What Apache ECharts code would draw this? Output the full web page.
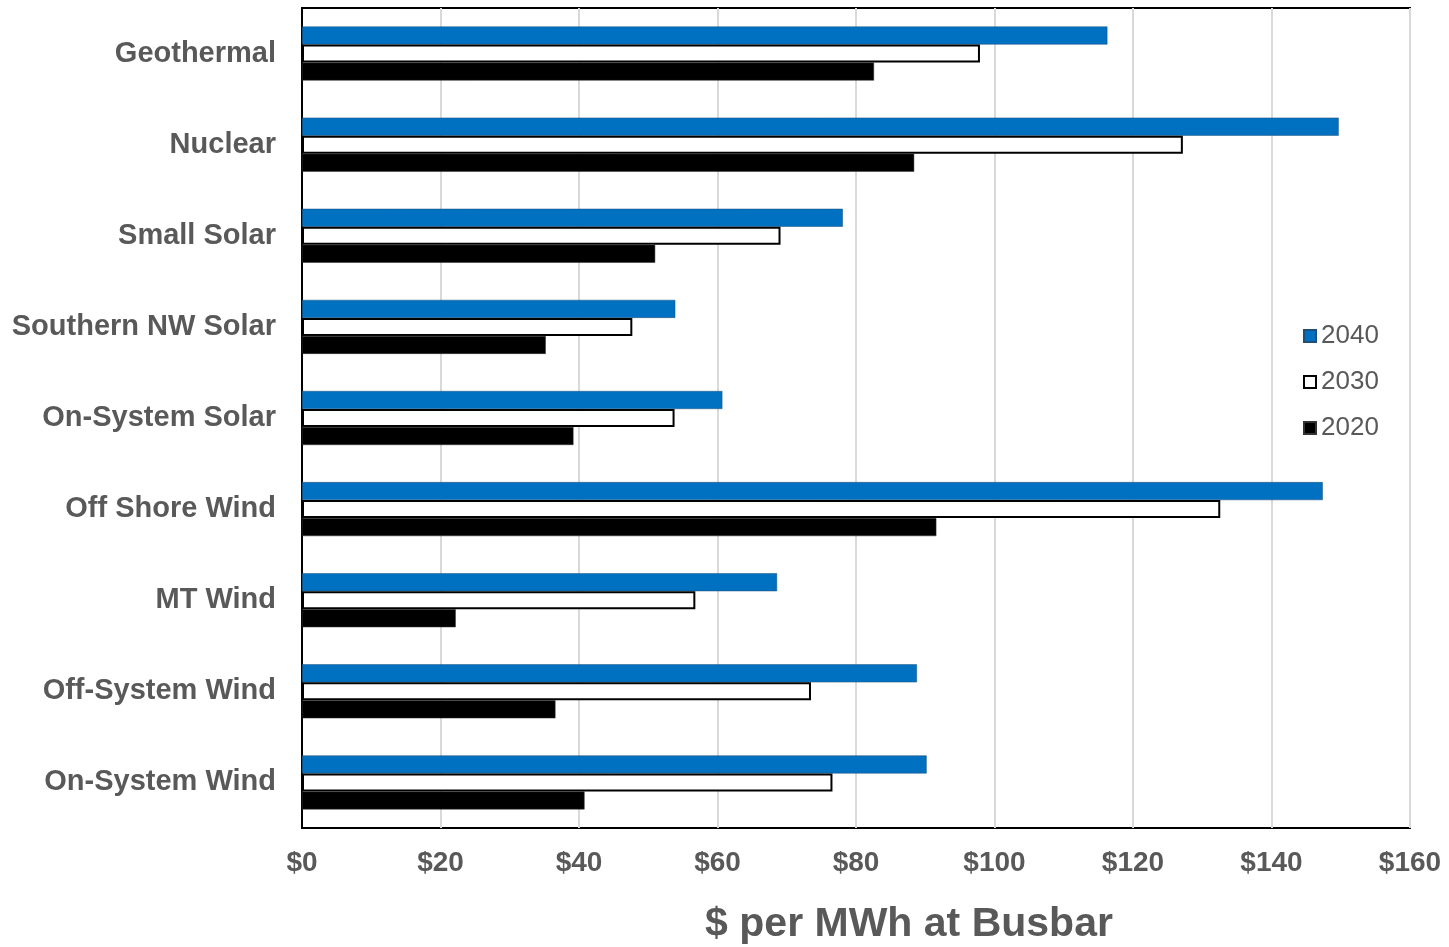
<!DOCTYPE html>
<html>
<head>
<meta charset="utf-8">
<script src="https://cdn.jsdelivr.net/npm/echarts@6/dist/echarts.min.js"></script>
<style>html,body{margin:0;padding:0;background:#fff}#c{width:1449px;height:947px}</style>
</head>
<body>
<div id="c"></div>
<script>
const categories = ['Geothermal','Nuclear','Small Solar','Southern NW Solar','On-System Solar','Off Shore Wind','MT Wind','Off-System Wind','On-System Wind'];
const seriesNames = ['2040','2030','2020'];
const values2040 = [116.3, 149.7, 78.1, 53.9, 60.7, 147.4, 68.6, 88.8, 90.2];
const values2030 = [97.9, 127.2, 69.1, 47.7, 53.8, 132.6, 56.8, 73.5, 76.6];
const values2020 = [82.6, 88.4, 51.0, 35.2, 39.2, 91.6, 22.2, 36.6, 40.8];
const xTicks = [0, 20, 40, 60, 80, 100, 120, 140, 160];
const axisTitle = '$ per MWh at Busbar';

const FONT = '"Liberation Sans", Arial, sans-serif';
const GRAY = '#595959';
const chart = echarts.init(document.getElementById('c'), null, {renderer: 'canvas'});
chart.setOption({
  animation: false,
  backgroundColor: '#fff',
  textStyle: {fontFamily: FONT},
  grid: {left: 302, top: 8, right: 39, bottom: 119, show: true, borderColor: '#000', borderWidth: 2, containLabel: false},
  legend: {
    orient: 'vertical', left: 1303, top: 323, padding: 0, itemGap: 20,
    itemWidth: 12, itemHeight: 12, icon: 'rect',
    textStyle: {fontSize: 26, color: GRAY, fontFamily: FONT},
    data: seriesNames
  },
  xAxis: {
    type: 'value', min: xTicks[0], max: xTicks[xTicks.length - 1], interval: 20,
    axisLine: {show: false}, axisTick: {show: false},
    splitLine: {show: true, lineStyle: {color: '#d9d9d9', width: 2}},
    axisLabel: {formatter: v => '$' + v, fontSize: 28, fontWeight: 'bold', color: GRAY, margin: 21, fontFamily: FONT}
  },
  yAxis: {
    type: 'category', data: categories, inverse: true,
    axisLine: {show: true, lineStyle: {color: '#000', width: 2}}, axisTick: {show: false},
    axisLabel: {fontSize: 29, fontWeight: 'bold', color: GRAY, margin: 26, fontFamily: FONT}
  },
  graphic: [{
    type: 'text', x: 909, y: 925,
    style: {text: axisTitle, fontSize: 41, fontWeight: 'bold', fill: GRAY, fontFamily: FONT, textAlign: 'center', textVerticalAlign: 'middle'}
  }],
  series: [
    {name: seriesNames[0], type: 'bar', data: values2040, barWidth: 18, barGap: '0%',
     itemStyle: {color: '#0070C0', borderColor: '#1f4e79', borderWidth: 0.5}},
    {name: seriesNames[1], type: 'bar', data: values2030, barWidth: 18, barGap: '0%',
     itemStyle: {color: '#ffffff', borderColor: '#000', borderWidth: 2}},
    {name: seriesNames[2], type: 'bar', data: values2020, barWidth: 18, barGap: '0%',
     itemStyle: {color: '#000000', borderColor: '#333', borderWidth: 0.5}}
  ]
});
</script>
</body>
</html>
